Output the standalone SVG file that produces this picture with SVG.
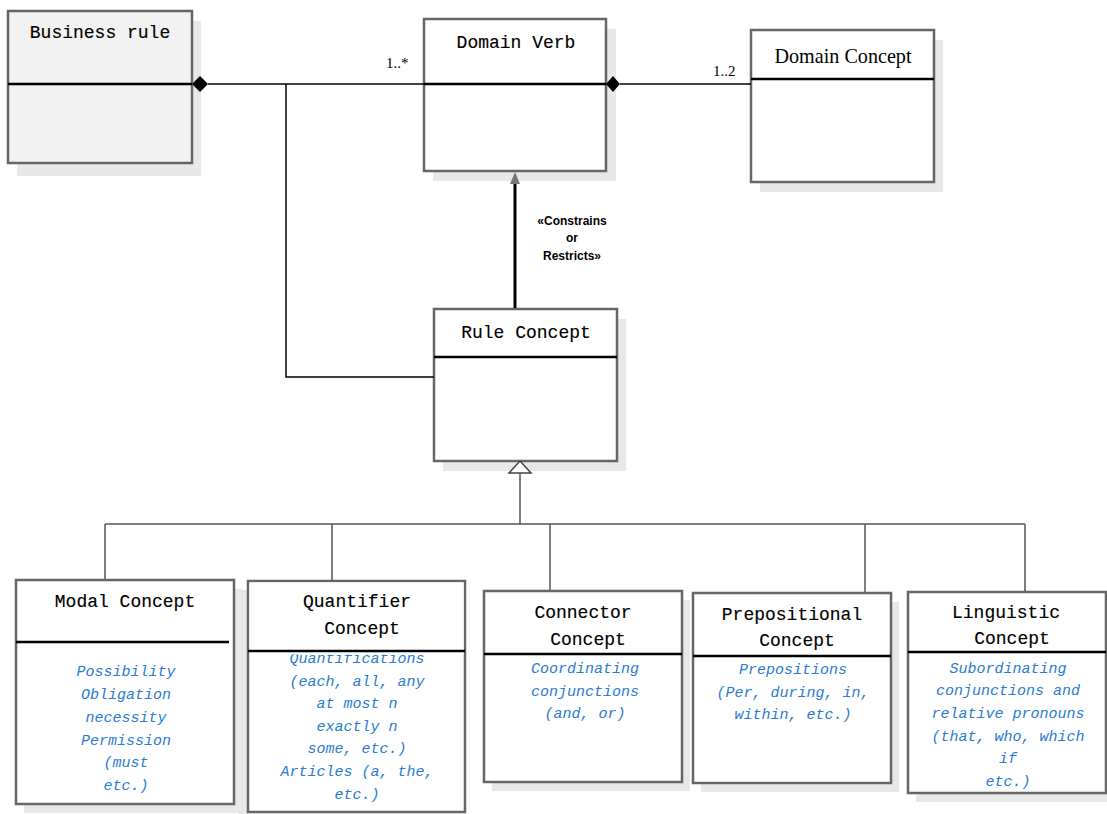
<svg xmlns="http://www.w3.org/2000/svg" width="1107" height="814" viewBox="0 0 1107 814">
<style>
.shadow{fill:#e8e8e8;stroke:none}
.box{fill:#fff;stroke:#666;stroke-width:2.5}
.boxg{fill:#f2f2f2;stroke:#666;stroke-width:2.5}
.div{stroke:#000;stroke-width:2.5}
.title{font-family:"Courier New","Nimbus Mono PS","Nimbus Mono L",FreeMono,"Liberation Mono",monospace;font-size:18px;fill:#000;stroke:#000;stroke-width:0.15;text-anchor:middle}
.attr{font-family:"Courier New","Nimbus Mono PS","Nimbus Mono L",FreeMono,"Liberation Mono",monospace;font-size:15px;font-style:italic;fill:#2a7cd0;text-anchor:middle}
.mult{font-family:"Liberation Serif",serif;font-size:15px;fill:#000}
.stereo{font-family:"Liberation Sans",Arial,sans-serif;font-size:12px;font-weight:bold;fill:#000;text-anchor:middle}
.conn{fill:none;stroke:#000;stroke-width:1.5}
.gen{fill:none;stroke:#555;stroke-width:1.5}
</style>
<rect width="1107" height="814" fill="#fff"/>

<g id="business-rule">
  <rect class="shadow" x="17" y="21" width="184" height="155"/>
  <rect class="boxg" x="8" y="11" width="184" height="152"/>
  <line class="div" x1="8" y1="84" x2="192" y2="84"/>
  <text class="title" x="100" y="38">Business rule</text>
</g>

<g id="domain-verb">
  <rect class="shadow" x="433" y="29" width="183" height="152"/>
  <rect class="box" x="424" y="19" width="182" height="152"/>
  <line class="div" x1="424" y1="84" x2="606" y2="84"/>
  <text class="title" x="516" y="48">Domain Verb</text>
</g>

<g id="domain-concept">
  <rect class="shadow" x="760" y="40" width="183" height="152"/>
  <rect class="box" x="751" y="30" width="183" height="152"/>
  <line class="div" x1="751" y1="79" x2="934" y2="79"/>
  <text x="843" y="63" font-family="Liberation Serif,serif" font-size="21" text-anchor="middle" textLength="137" lengthAdjust="spacingAndGlyphs">Domain Concept</text>
</g>

<g id="rule-concept">
  <rect class="shadow" x="443" y="319" width="183" height="152"/>
  <rect class="box" x="434" y="309" width="183" height="152"/>
  <line class="div" x1="434" y1="357" x2="617" y2="357"/>
  <text class="title" x="526" y="338">Rule Concept</text>
</g>

<g id="modal-concept">
  <rect class="shadow" x="24" y="589" width="218" height="224"/>
  <rect class="box" x="16" y="580" width="218" height="224"/>
  <line class="div" x1="16" y1="642" x2="229" y2="642"/>
  <text class="title" x="125" y="607">Modal Concept</text>
  <text class="attr"><tspan x="126" y="676">Possibility</tspan><tspan x="126" y="699">Obligation</tspan><tspan x="126" y="722">necessity</tspan><tspan x="126" y="745">Permission</tspan><tspan x="126" y="767">(must</tspan><tspan x="126" y="790">etc.)</tspan></text>
</g>

<g id="quantifier-concept">
  <rect class="shadow" x="238" y="590" width="10" height="224"/>
  <rect class="box" x="248" y="581" width="217" height="231"/>
  <text class="attr"><tspan x="357" y="663">Quantifications</tspan><tspan x="357" y="686">(each, all, any</tspan><tspan x="357" y="708">at most n</tspan><tspan x="357" y="731">exactly n</tspan><tspan x="357" y="753">some, etc.)</tspan><tspan x="357" y="776">Articles (a, the,</tspan><tspan x="357" y="799">etc.)</tspan></text>
  <rect x="249.5" y="582.5" width="214" height="72" fill="#fff"/>
  <line class="div" x1="248" y1="651" x2="465" y2="651"/>
  <text class="title"><tspan x="357" y="607">Quantifier</tspan><tspan x="362" y="634">Concept</tspan></text>
</g>

<g id="connector-concept">
  <rect class="shadow" x="492" y="600" width="198" height="191"/>
  <rect class="box" x="484" y="591" width="198" height="191"/>
  <line class="div" x1="484" y1="654" x2="682" y2="654"/>
  <text class="title"><tspan x="583" y="618">Connector</tspan><tspan x="588" y="645">Concept</tspan></text>
  <text class="attr"><tspan x="585" y="673">Coordinating</tspan><tspan x="585" y="696">conjunctions</tspan><tspan x="585" y="718">(and, or)</tspan></text>
</g>

<g id="prepositional-concept">
  <rect class="shadow" x="701" y="602" width="198" height="190"/>
  <rect class="box" x="693" y="593" width="198" height="190"/>
  <line class="div" x1="693" y1="656" x2="891" y2="656"/>
  <text class="title"><tspan x="792" y="620">Prepositional</tspan><tspan x="797" y="646">Concept</tspan></text>
  <text class="attr"><tspan x="793" y="674">Prepositions</tspan><tspan x="793" y="697">(Per, during, in,</tspan><tspan x="793" y="719">within, etc.)</tspan></text>
</g>

<g id="linguistic-concept">
  <rect class="shadow" x="916" y="601" width="191" height="201"/>
  <rect class="box" x="908" y="592" width="198" height="201"/>
  <line class="div" x1="908" y1="652" x2="1106" y2="652"/>
  <text class="title"><tspan x="1006" y="618">Linguistic</tspan><tspan x="1012" y="644">Concept</tspan></text>
  <text class="attr"><tspan x="1008" y="673">Subordinating</tspan><tspan x="1008" y="695">conjunctions and</tspan><tspan x="1008" y="718">relative pronouns</tspan><tspan x="1008" y="741">(that, who, which</tspan><tspan x="1008" y="763">if</tspan><tspan x="1008" y="786">etc.)</tspan></text>
</g>

<g id="connectors">
  <line class="conn" x1="208" y1="84" x2="424" y2="84"/>
  <polygon points="192,84 200,76 208,84 200,92" fill="#000"/>
  <polyline class="conn" points="286,84 286,377 434,377"/>
  <line class="conn" x1="620" y1="84" x2="751" y2="84"/>
  <polygon points="606,84 613,76 620,84 613,92" fill="#000"/>
  <line x1="515" y1="308" x2="515" y2="182" stroke="#000" stroke-width="3"/>
  <polygon points="515,172 520,184 510,184" fill="#777"/>
  <text class="stereo"><tspan x="572" y="225">«Constrains</tspan><tspan x="572" y="242">or</tspan><tspan x="572" y="260">Restricts»</tspan></text>
  <text class="mult" x="386" y="68">1..*</text>
  <text class="mult" x="713" y="76">1..2</text>
  <polygon points="520,461 531,473 509,473" fill="#fff" stroke="#444" stroke-width="1.5"/>
  <line class="gen" x1="520" y1="473" x2="520" y2="524"/>
  <line class="gen" x1="105" y1="524" x2="1025" y2="524"/>
  <line class="gen" x1="105" y1="524" x2="105" y2="579"/>
  <line class="gen" x1="332" y1="524" x2="332" y2="580"/>
  <line class="gen" x1="550" y1="524" x2="550" y2="590"/>
  <line class="gen" x1="865" y1="524" x2="865" y2="592"/>
  <line class="gen" x1="1025" y1="524" x2="1025" y2="591"/>
</g>
</svg>
